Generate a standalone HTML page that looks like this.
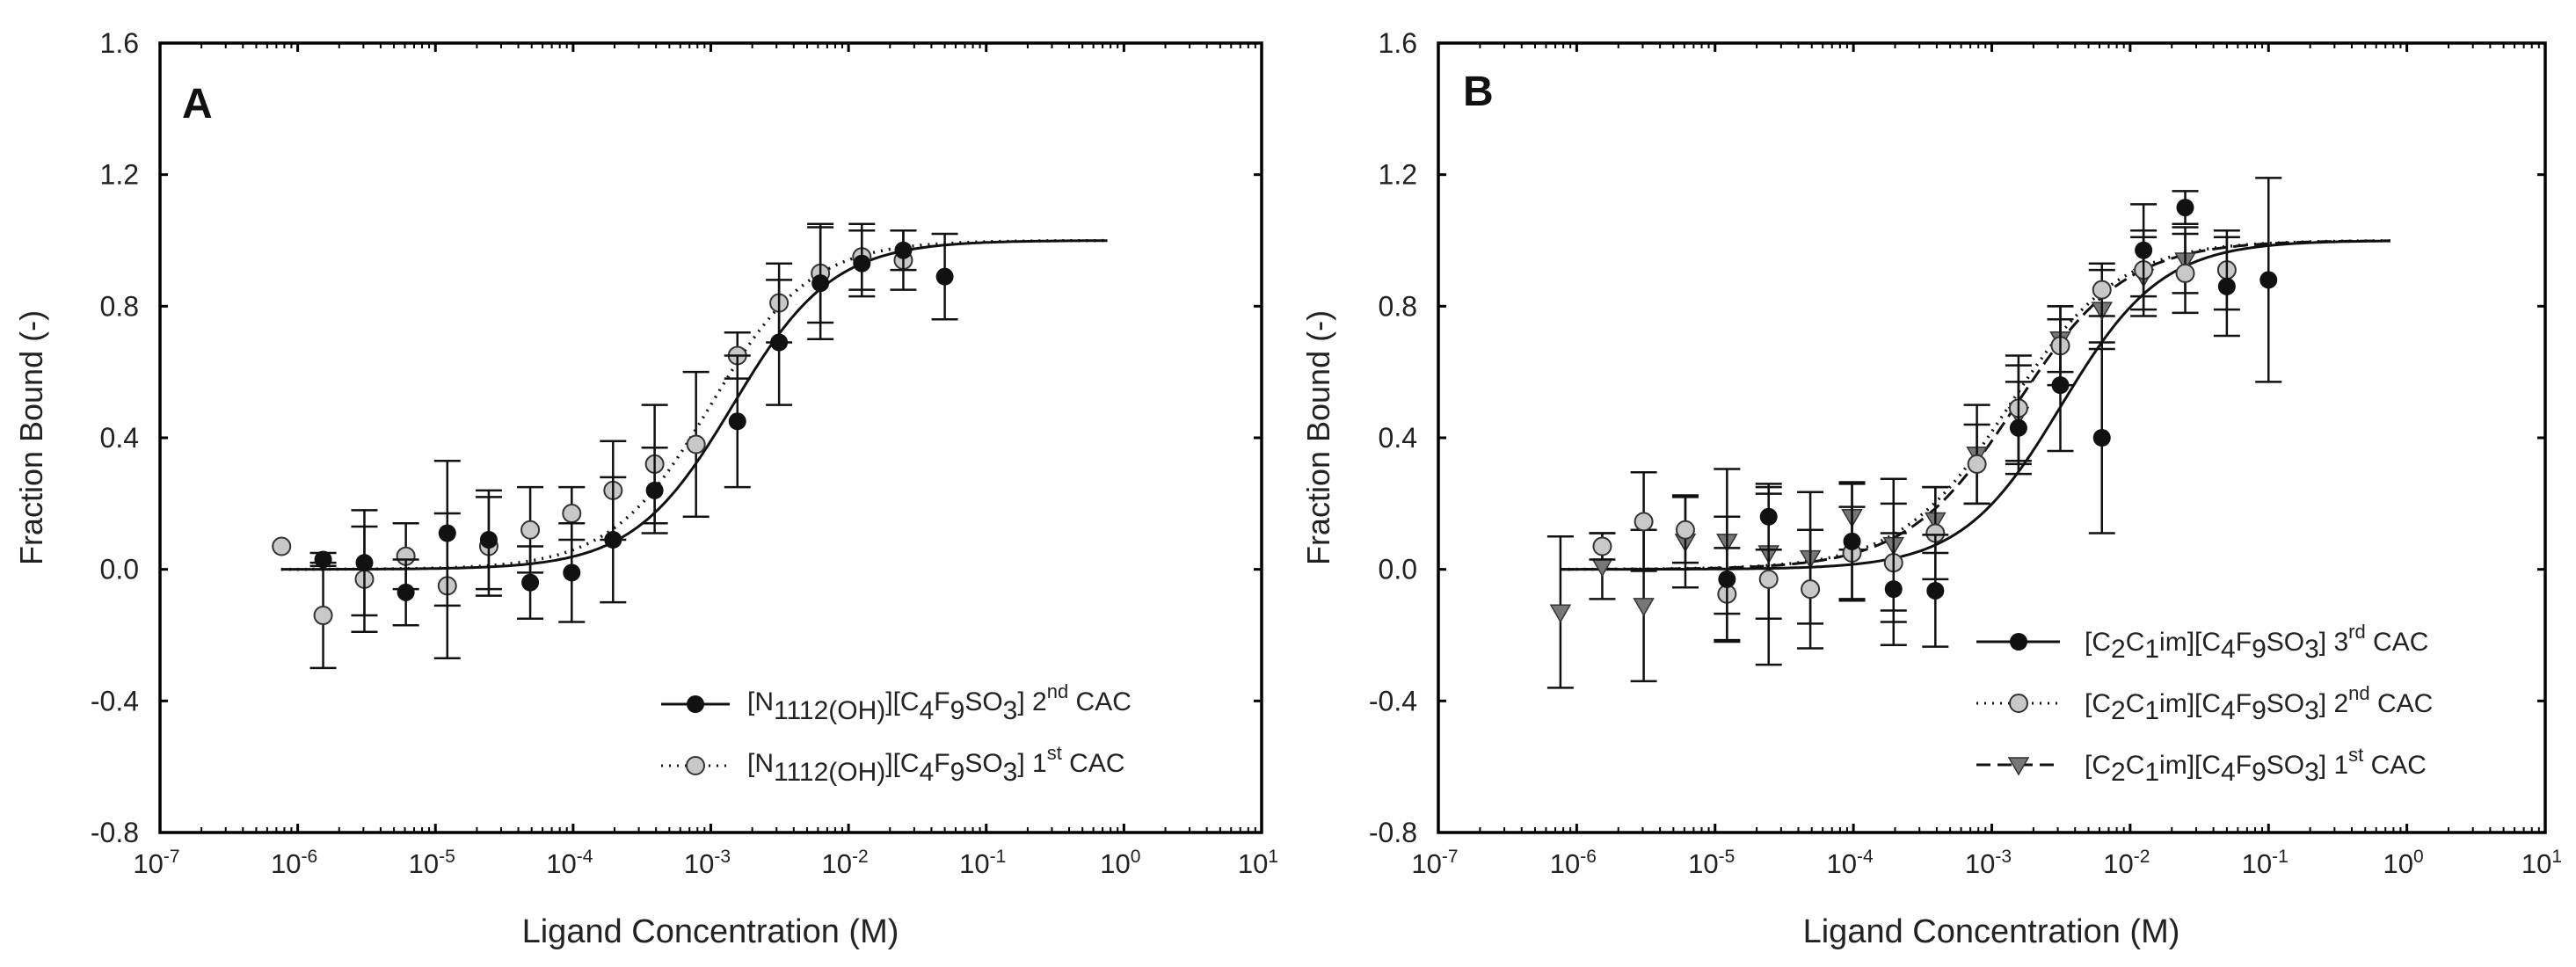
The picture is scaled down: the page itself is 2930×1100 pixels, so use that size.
<!DOCTYPE html>
<html><head><meta charset="utf-8"><style>
html,body{margin:0;padding:0;background:#fff;}
svg{display:block;font-family:"Liberation Sans",Arial,sans-serif;}
</style></head><body>
<svg id="fig" width="2930" height="1100" viewBox="0 0 2930 1100" xmlns="http://www.w3.org/2000/svg">
<rect width="2930" height="1100" fill="#fff"/>
<g id="panelA"></g>
<g id="panelB"></g>
<text x="207" y="134" font-size="48" font-weight="bold" fill="#111">A</text>
<text x="1664" y="120" font-size="48" font-weight="bold" fill="#111">B</text>
<text transform="translate(48,498) rotate(-90)" text-anchor="middle" font-size="36" fill="#222">Fraction Bound (-)</text>
<text transform="translate(1512,498) rotate(-90)" text-anchor="middle" font-size="36" fill="#222">Fraction Bound (-)</text>
<text x="808" y="1072" text-anchor="middle" font-size="38" fill="#222">Ligand Concentration (M)</text>
<text x="2265" y="1072" text-anchor="middle" font-size="38" fill="#222">Ligand Concentration (M)</text>
<g font-size="30" fill="#222">
 <g>
  <line x1="752" y1="801" x2="830" y2="801" stroke="#111" stroke-width="3"/>
  <circle cx="791" cy="801" r="10" fill="#111"/>
  <text x="850" y="808">[N<tspan font-size="30" dy="10">1112(OH)</tspan><tspan dy="-10">][C</tspan><tspan dy="10">4</tspan><tspan dy="-10">F</tspan><tspan dy="10">9</tspan><tspan dy="-10">SO</tspan><tspan dy="10">3</tspan><tspan dy="-10">] 2</tspan><tspan font-size="22" dy="-14">nd</tspan><tspan dy="14"> CAC</tspan></text>
 </g>
 <g>
  <line x1="752" y1="871" x2="830" y2="871" stroke="#111" stroke-width="3" stroke-dasharray="2 7"/>
  <circle cx="791" cy="871" r="10" fill="#c8c8c8" stroke="#333" stroke-width="2"/>
  <text x="850" y="878">[N<tspan dy="10">1112(OH)</tspan><tspan dy="-10">][C</tspan><tspan dy="10">4</tspan><tspan dy="-10">F</tspan><tspan dy="10">9</tspan><tspan dy="-10">SO</tspan><tspan dy="10">3</tspan><tspan dy="-10">] 1</tspan><tspan font-size="22" dy="-14">st</tspan><tspan dy="14"> CAC</tspan></text>
 </g>
</g>
<g font-size="30" fill="#222">
 <g>
  <line x1="2248" y1="730" x2="2343" y2="730" stroke="#111" stroke-width="3"/>
  <circle cx="2296" cy="730" r="10" fill="#111"/>
  <text x="2371" y="740">[C<tspan dy="8">2</tspan><tspan dy="-8">C</tspan><tspan dy="8">1</tspan><tspan dy="-8">im][C</tspan><tspan dy="8">4</tspan><tspan dy="-8">F</tspan><tspan dy="8">9</tspan><tspan dy="-8">SO</tspan><tspan dy="8">3</tspan><tspan dy="-8">] 3</tspan><tspan font-size="22" dy="-14">rd</tspan><tspan dy="14"> CAC</tspan></text>
 </g>
 <g>
  <line x1="2248" y1="800" x2="2343" y2="800" stroke="#111" stroke-width="3" stroke-dasharray="2 7"/>
  <circle cx="2296" cy="800" r="10" fill="#c8c8c8" stroke="#333" stroke-width="2"/>
  <text x="2371" y="810">[C<tspan dy="8">2</tspan><tspan dy="-8">C</tspan><tspan dy="8">1</tspan><tspan dy="-8">im][C</tspan><tspan dy="8">4</tspan><tspan dy="-8">F</tspan><tspan dy="8">9</tspan><tspan dy="-8">SO</tspan><tspan dy="8">3</tspan><tspan dy="-8">] 2</tspan><tspan font-size="22" dy="-14">nd</tspan><tspan dy="14"> CAC</tspan></text>
 </g>
 <g>
  <line x1="2248" y1="870" x2="2343" y2="870" stroke="#111" stroke-width="3" stroke-dasharray="16 8"/>
  <path d="M2285,862 L2307,862 L2296,881 Z" fill="#777" stroke="#333" stroke-width="1.5"/>
  <text x="2371" y="880">[C<tspan dy="8">2</tspan><tspan dy="-8">C</tspan><tspan dy="8">1</tspan><tspan dy="-8">im][C</tspan><tspan dy="8">4</tspan><tspan dy="-8">F</tspan><tspan dy="8">9</tspan><tspan dy="-8">SO</tspan><tspan dy="8">3</tspan><tspan dy="-8">] 1</tspan><tspan font-size="22" dy="-14">st</tspan><tspan dy="14"> CAC</tspan></text>
 </g>
</g>
</svg>
<script>
// ---- axis data ----
const yTickValues = [-0.8, -0.4, 0.0, 0.4, 0.8, 1.2, 1.6];
const yTickLabels = ["-0.8", "-0.4", "0.0", "0.4", "0.8", "1.2", "1.6"];
const xTickExponents = [-7, -6, -5, -4, -3, -2, -1, 0, 1];
const xTickSup = ["-7", "-6", "-5", "-4", "-3", "-2", "-1", "0", "1"];

// ---- Panel A data ----
const aBlackConc = [1.53e-6, 3.05e-6, 6.10e-6, 1.22e-5, 2.44e-5, 4.88e-5, 9.77e-5, 1.95e-4, 3.91e-4, 1.56e-3, 3.13e-3, 6.25e-3, 1.25e-2, 2.5e-2, 5e-2];
const aBlackVal = [0.03, 0.02, -0.07, 0.11, 0.09, -0.04, -0.01, 0.09, 0.24, 0.45, 0.69, 0.87, 0.93, 0.97, 0.89];
const aBlackErr = [0.02, 0.16, 0.10, 0.22, 0.15, 0.11, 0.15, 0.19, 0.13, 0.20, 0.19, 0.17, 0.10, 0.06, 0.13];
const aGrayConc = [7.63e-7, 1.53e-6, 3.05e-6, 6.10e-6, 1.22e-5, 2.44e-5, 4.88e-5, 9.77e-5, 1.95e-4, 3.91e-4, 7.81e-4, 1.56e-3, 3.13e-3, 6.25e-3, 1.25e-2, 2.5e-2];
const aGrayVal = [0.07, -0.14, -0.03, 0.04, -0.05, 0.07, 0.12, 0.17, 0.24, 0.32, 0.38, 0.65, 0.81, 0.90, 0.95, 0.94];
const aGrayErr = [0, 0.16, 0.16, 0.10, 0.22, 0.15, 0.13, 0.08, 0.15, 0.18, 0.22, 0.07, 0.12, 0.15, 0.10, 0.09];
const aFitEC50 = [1.45e-3, 1.0e-3];
const aFitHill = [1.2, 1.2];

// ---- Panel B data ----
const bTriConc = [7.63e-7, 1.53e-6, 3.05e-6, 6.10e-6, 1.22e-5, 2.44e-5, 4.88e-5, 9.77e-5, 1.95e-4, 3.91e-4, 7.81e-4, 1.56e-3, 3.13e-3, 6.25e-3, 1.25e-2, 2.5e-2];
const bTriVal = [-0.13, 0.01, -0.11, 0.085, 0.085, 0.05, 0.035, 0.16, 0.075, 0.15, 0.35, 0.47, 0.70, 0.79, 0.89, 0.94];
const bTriErr = [0.23, 0.10, 0.23, 0.14, 0.22, 0.20, 0.20, 0.10, 0.20, 0.10, 0.15, 0.15, 0.10, 0.12, 0.12, 0.10];
const bGrayConc = [1.53e-6, 3.05e-6, 6.10e-6, 1.22e-5, 2.44e-5, 4.88e-5, 9.77e-5, 1.95e-4, 3.91e-4, 7.81e-4, 1.56e-3, 3.13e-3, 6.25e-3, 1.25e-2, 2.5e-2, 5e-2];
const bGrayVal = [0.07, 0.145, 0.12, -0.075, -0.03, -0.06, 0.05, 0.02, 0.11, 0.32, 0.49, 0.68, 0.85, 0.91, 0.90, 0.91];
const bGrayErr = [0.04, 0.15, 0.10, 0.14, 0.26, 0.18, 0.14, 0.18, 0.14, 0.12, 0.16, 0.12, 0.08, 0.12, 0.12, 0.12];
const bBlackConc = [1.22e-5, 2.44e-5, 9.77e-5, 1.95e-4, 3.91e-4, 1.56e-3, 3.13e-3, 6.25e-3, 1.25e-2, 2.5e-2, 5e-2, 1e-1];
const bBlackVal = [-0.03, 0.16, 0.085, -0.06, -0.065, 0.43, 0.56, 0.40, 0.97, 1.10, 0.86, 0.88];
const bBlackErr = [0.19, 0.10, 0.18, 0.17, 0.17, 0.14, 0.20, 0.29, 0.14, 0.05, 0.15, 0.31];
const bFitEC50 = [3.2e-3, 1.35e-3, 1.5e-3];
const bFitHill = [1.2, 1.1, 1.1];

const NS = "http://www.w3.org/2000/svg";
function mk(tag, attrs, parent) {
  const el = document.createElementNS(NS, tag);
  for (const k in attrs) el.setAttribute(k, attrs[k]);
  parent.appendChild(el);
  return el;
}
function makeAxes(g, L, R, T, B) {
  const X = c => L + (Math.log10(c) + 7) / 8 * (R - L);
  const Y = v => B - (v + 0.8) / 2.4 * (B - T);
  const frame = mk("rect", {x: L, y: T, width: R - L, height: B - T, fill: "none", stroke: "#000", "stroke-width": 3.5}, g);
  
  
  yTickValues.forEach((v, i) => {
    const y = Y(v);
    const t1 = mk("line", {x1: L, x2: L + 9, y1: y, y2: y, stroke: "#000", "stroke-width": 3}, g);
    
    
    const t2 = mk("line", {x1: R, x2: R - 9, y1: y, y2: y, stroke: "#000", "stroke-width": 3}, g);
    
    
    const lb = mk("text", {x: L - 24, y: y + 11, "text-anchor": "end", "font-size": 32, fill: "#222"}, g);
    lb.textContent = yTickLabels[i];
    
    
  });
  xTickExponents.forEach((e, i) => {
    const x = X(Math.pow(10, e));
    [[B, -10], [T, 10]].forEach(([yy, d]) => {
      const t = mk("line", {x1: x, x2: x, y1: yy, y2: yy + d, stroke: "#000", "stroke-width": 3}, g);
      
      
    });
    if (e < 1) {
      for (let m = 2; m <= 9; m++) {
        const xm = X(m * Math.pow(10, e));
        [[B, -6], [T, 6]].forEach(([yy, d]) => {
          const t = mk("line", {x1: xm, x2: xm, y1: yy, y2: yy + d, stroke: "#000", "stroke-width": 2}, g);
          
          
        });
      }
    }
    const lb = mk("text", {x: x - 4, y: B + 46, "text-anchor": "middle", "font-size": 31, fill: "#222"}, g);
    
    
    lb.appendChild(document.createTextNode("10"));
    const sp = document.createElementNS(NS, "tspan");
    sp.setAttribute("font-size", "21");
    sp.setAttribute("dy", "-12");
    sp.textContent = xTickSup[i];
    lb.appendChild(sp);
  });
  return {X, Y};
}
function drawCurve(g, ax, ec50, hill, dash, name) {
  let d = "";
  for (let i = 0; i <= 300; i++) {
    const lc = -6.12 + i / 300 * (6.0);
    const c = Math.pow(10, lc);
    const v = 1 / (1 + Math.pow(ec50 / c, hill));
    d += (i ? "L" : "M") + ax.X(c).toFixed(1) + "," + ax.Y(v).toFixed(1);
  }
  const p = mk("path", {d: d, fill: "none", stroke: "#111", "stroke-width": dash === "2 7" ? 3.5 : 3, "stroke-dasharray": dash}, g);
  
  
}
function drawSeries(g, ax, conc, val, err, marker, name) {
  conc.forEach((c, i) => {
    const x = ax.X(c), y = ax.Y(val[i]);
    if (err[i] > 0) {
      const yt = ax.Y(val[i] + err[i]), yb = ax.Y(val[i] - err[i]);
      const eb = mk("path", {d: `M${x},${yt}L${x},${yb}M${x - 15},${yt}L${x + 15},${yt}M${x - 15},${yb}L${x + 15},${yb}`, stroke: "#111", "stroke-width": 2.5, fill: "none"}, g);
      
      
    }
  });
  conc.forEach((c, i) => {
    const x = ax.X(c), y = ax.Y(val[i]);
    let m;
    if (marker === "black") m = mk("circle", {cx: x, cy: y, r: 10, fill: "#111"}, g);
    else if (marker === "gray") m = mk("circle", {cx: x, cy: y, r: 10, fill: "#c8c8c8", stroke: "#333", "stroke-width": 2}, g);
    else m = mk("path", {d: `M${x - 11},${y - 8}L${x + 11},${y - 8}L${x},${y + 11}Z`, fill: "#777", stroke: "#333", "stroke-width": 1.5}, g);
    
    
  });
}
const gA = document.getElementById("panelA");
const axA = makeAxes(gA, 182, 1435, 49, 947);
drawCurve(gA, axA, aFitEC50[1], aFitHill[1], "2 7", "fit-curve-a-1st");
drawCurve(gA, axA, aFitEC50[0], aFitHill[0], "none", "fit-curve-a-2nd");
drawSeries(gA, axA, aGrayConc, aGrayVal, aGrayErr, "gray", "series-a-1st");
drawSeries(gA, axA, aBlackConc, aBlackVal, aBlackErr, "black", "series-a-2nd");

const gB = document.getElementById("panelB");
const axB = makeAxes(gB, 1636, 2895, 49, 947);
drawCurve(gB, axB, bFitEC50[0], bFitHill[0], "none", "fit-curve-b-3rd");
drawCurve(gB, axB, bFitEC50[1], bFitHill[1], "2 7", "fit-curve-b-2nd");
drawCurve(gB, axB, bFitEC50[2], bFitHill[2], "16 8", "fit-curve-b-1st");
drawSeries(gB, axB, bTriConc, bTriVal, bTriErr, "tri", "series-b-1st");
drawSeries(gB, axB, bGrayConc, bGrayVal, bGrayErr, "gray", "series-b-2nd");
drawSeries(gB, axB, bBlackConc, bBlackVal, bBlackErr, "black", "series-b-3rd");
</script>
</body></html>
